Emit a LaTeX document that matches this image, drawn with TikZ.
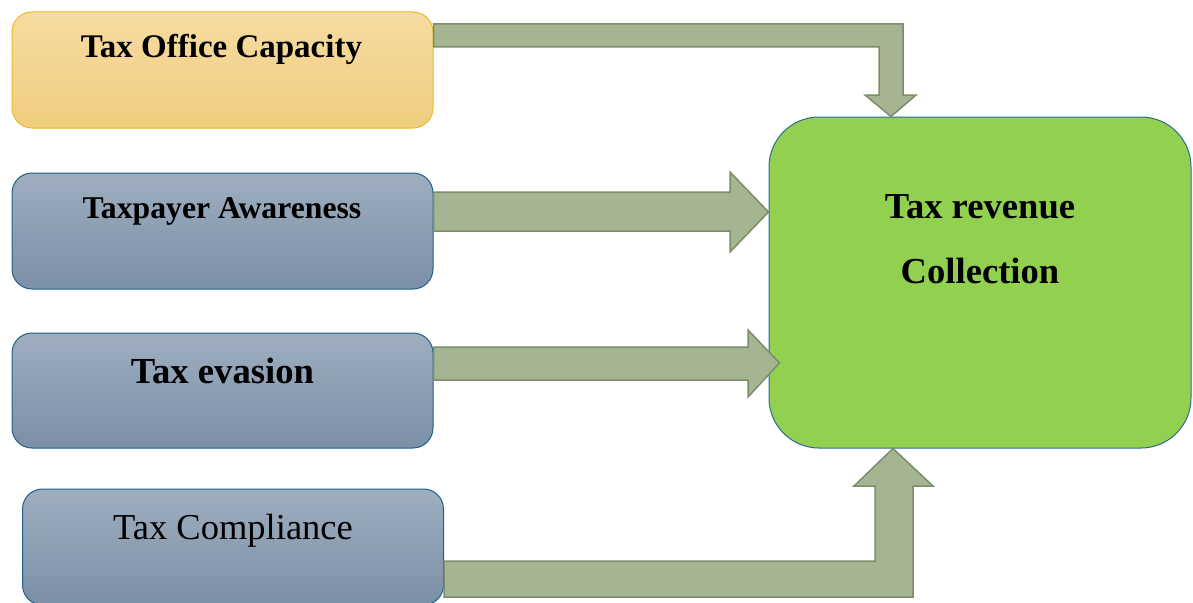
\documentclass[tikz,border=0pt]{standalone}
\usepackage{fontspec}
\setmainfont{Liberation Serif}
\usetikzlibrary{calc}

\definecolor{officetop}{HTML}{F6DCA2}
\definecolor{officebot}{HTML}{F0CD7E}
\definecolor{officeline}{HTML}{E8BA2A}
\definecolor{bluetop}{HTML}{9EAEBF}
\definecolor{bluebot}{HTML}{7B8FA7}
\definecolor{blueline}{HTML}{1F5F8A}
\definecolor{revfill}{HTML}{92D050}
\definecolor{revline}{HTML}{2E6A99}
\definecolor{arrowfill}{HTML}{A5B592}
\definecolor{arrowline}{HTML}{7D8C6B}

\tikzset{
  taxbox/.style={draw=blueline, line width=1pt, rounded corners=20pt, minimum width=421pt, minimum height=116pt, inner sep=0pt, top color=bluetop, bottom color=bluebot},
  bigarrow/.style={draw=arrowline, fill=arrowfill, line width=1.5pt, line join=miter}
}

\begin{document}
\begin{tikzpicture}[x=1pt, y=-1pt]
\useasboundingbox (0,0) rectangle (1193,602);
\node[taxbox, draw=officeline, top color=officetop, bottom color=officebot] (office) at (222.5,70) {};
\node[taxbox] (aware) at (222.5,231) {};
\node[taxbox, minimum height=115pt] (evasion) at (222.5,390.5) {};
\node[taxbox] (comply) at (233,547) {};
\node[draw=revline, line width=1pt, fill=revfill, rounded corners=50pt, minimum width=422pt, minimum height=331pt, inner sep=0pt] (revenue) at (980,282.5) {};
\node[anchor=base, font=\fontsize{33}{36}\selectfont\bfseries] (officetxt) at (221.5,57) {Tax Office Capacity};
\node[anchor=base, font=\fontsize{31.7}{36}\selectfont\bfseries] (awaretxt) at (222,218) {Taxpayer Awareness};
\node[anchor=base, font=\fontsize{36.7}{40}\selectfont\bfseries] (evasiontxt) at (222.5,383) {Tax evasion};
\node[anchor=base, font=\fontsize{36.5}{40}\selectfont] (complytxt) at (233,539) {Tax Compliance};
\node[anchor=base, font=\fontsize{36.6}{40}\selectfont\bfseries] (revtxta) at (980,218) {Tax revenue};
\node[anchor=base, font=\fontsize{36.6}{40}\selectfont\bfseries] (revtxtb) at (980,283) {Collection};
% arrows into the revenue box
\draw[bigarrow] (office.east |- 0,24) -- (903,24) -- (903,95) -- (916,95) -- (revenue.north -| 891,0) -- (865,95) -- (879,95) -- (879,47) -- (office.east |- 0,47) -- cycle;
\draw[bigarrow] (aware.east |- 0,192) -- (730,192) -- (730,172) -- (revenue.west |- 0,212) -- (730,252) -- (730,231) -- (aware.east |- 0,231) -- cycle;
\draw[bigarrow] (evasion.east |- 0,347) -- (748,347) -- (748,330) -- ($(revenue.west |- 0,363)+(11,0)$) -- (748,397) -- (748,380) -- (evasion.east |- 0,380) -- cycle;
\draw[bigarrow] (comply.east |- 0,561) -- (875,561) -- (875,486) -- (854,486) -- (revenue.south -| 893,0) -- (933,486) -- (913,486) -- (913,597) -- (comply.east |- 0,597) -- cycle;
\end{tikzpicture}
\end{document}
